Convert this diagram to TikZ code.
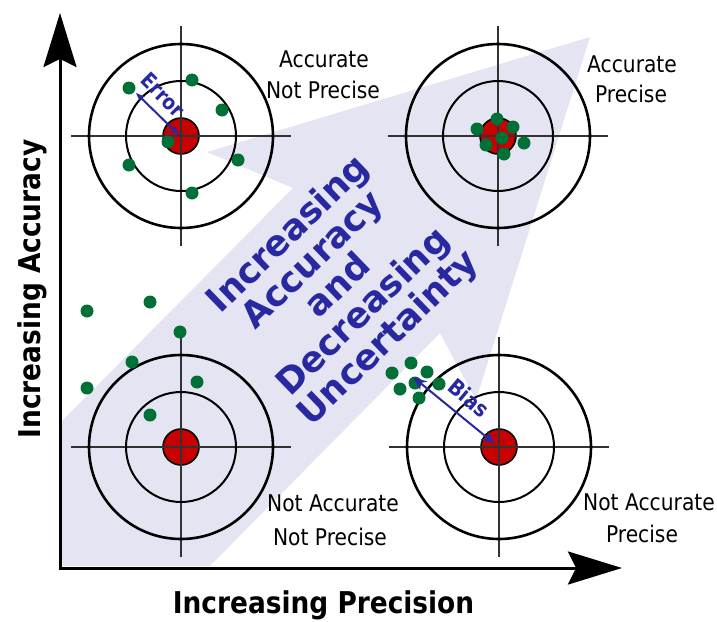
\documentclass[tikz,border=0pt]{standalone}
\usepackage{fontspec}
\setmainfont{DejaVu Sans}
\newfontfamily\lblfont{DejaVu Sans}[FakeStretch=0.88]
\usetikzlibrary{arrows.meta}
\definecolor{lav}{RGB}{228,228,243}
\definecolor{bullred}{RGB}{200,0,0}
\definecolor{dotgreen}{RGB}{0,112,55}
\definecolor{navyblue}{RGB}{40,40,160}
\definecolor{crossgray}{RGB}{50,50,50}
\begin{document}
\begin{tikzpicture}[x=1pt,y=-1pt,
  crossline/.style={crossgray,line width=1.3pt},
  outerring/.style={line width=2.6pt},
  innerring/.style={line width=2pt},
  bull/.style={fill=bullred,draw=black,line width=1.6pt},
  dot/.style={fill=dotgreen},
  lbl/.style={font=\lblfont\fontsize{23}{26}\selectfont,anchor=base,inner sep=0pt},
  axislbl/.style={font=\lblfont\bfseries\fontsize{30}{32}\selectfont,anchor=base,inner sep=0pt},
  axisline/.style={line width=3pt,line join=miter,{Stealth[length=54pt,width=33pt,inset=8pt]}-{Stealth[length=54pt,width=33pt,inset=8pt]}},
  measarrow/.style={navyblue,line width=2pt},
  target/.pic={
    \filldraw[bull] (0,0) circle[radius=18pt];
    \draw[crossline] (-110,0) -- (110,0) (0,-110) -- (0,110);
    \draw[outerring] (0,0) circle[radius=92pt];
    \draw[innerring] (0,0) circle[radius=55pt];
  }]
\useasboundingbox (0,0) rectangle (717,621);
% big lavender arrow
\fill[lav] (60,566) -- (60,423) -- (293,188) -- (207,152) -- (590,37) -- (476,400) -- (440,333) -- (210,566) -- cycle;
% target centres
\coordinate (tl) at (181,136);
\coordinate (tr) at (498,136);
\coordinate (bl) at (181,447);
\coordinate (br) at (499,447);
\pic at (tl) {target};
\pic at (tr) {target};
\pic at (bl) {target};
\pic at (br) {target};
% dots
\foreach \p in {(129,88),(192,80),(222,110),(168,142),(238,160),(129,165),(192,193)}
  \fill[dot] \p circle[radius=6.5pt];
\foreach \p in {(497,119),(477,129),(513,127),(502,138),(486,145),(524,143),(504,154)}
  \fill[dot] \p circle[radius=6.5pt];
\foreach \p in {(87,311),(150,302),(180,332),(132,362),(87,388),(197,382),(150,415)}
  \fill[dot] \p circle[radius=6.5pt];
\foreach \p in {(411,363),(392,373),(427,372),(415,383),(400,389),(439,384),(419,398)}
  \fill[dot] \p circle[radius=6.5pt];
% error and bias arrows
\coordinate (errA) at (136,93);
\coordinate (errB) at (179,135);
\draw[measarrow,{Stealth[length=9pt,width=7pt]}-{Stealth[length=10pt,width=8pt]}] (errA) -- (errB);
\node[navyblue,font=\lblfont\bfseries\fontsize{21}{22}\selectfont,rotate=-45,inner sep=0pt] (errtxt) at (163,95) {Error};
\coordinate (biasA) at (413,377);
\coordinate (biasB) at (495,444);
\draw[measarrow,{Stealth[length=14pt,width=11pt]}-{Stealth[length=14pt,width=11pt]}] (biasA) -- (biasB);
\node[navyblue,font=\lblfont\bfseries\fontsize{22}{24}\selectfont,rotate=-40,inner sep=0pt] (biastxt) at (469,398) {Bias};
% big text
\node[navyblue,font=\bfseries\fontsize{35.5}{36}\selectfont,rotate=44,align=center,inner sep=0pt] (big) at (339,287) {Increasing\\Accuracy\\and\\Decreasing\\Uncertainty};
% axes
\coordinate (O) at (60,568);
\coordinate (Ytop) at (60,13);
\coordinate (Xend) at (622,568);
\draw[axisline] (Ytop) -- (O) -- (Xend);
% axis labels
\node[axislbl] (xl) at (323.5,613) {Increasing Precision};
\node[axislbl,rotate=90] (yl) at (40,289) {Increasing Accuracy};
% quadrant labels
\node[lbl] (tl1) at (324,67) {Accurate};
\node[lbl] (tl2) at (323,98) {Not Precise};
\node[lbl] (tr1) at (632,72) {Accurate};
\node[lbl] (tr2) at (631,102) {Precise};
\node[lbl] (bl1) at (333,511) {Not Accurate};
\node[lbl] (bl2) at (330,545) {Not Precise};
\node[lbl] (br1) at (649,510) {Not Accurate};
\node[lbl] (br2) at (642,542) {Precise};
\end{tikzpicture}
\end{document}
